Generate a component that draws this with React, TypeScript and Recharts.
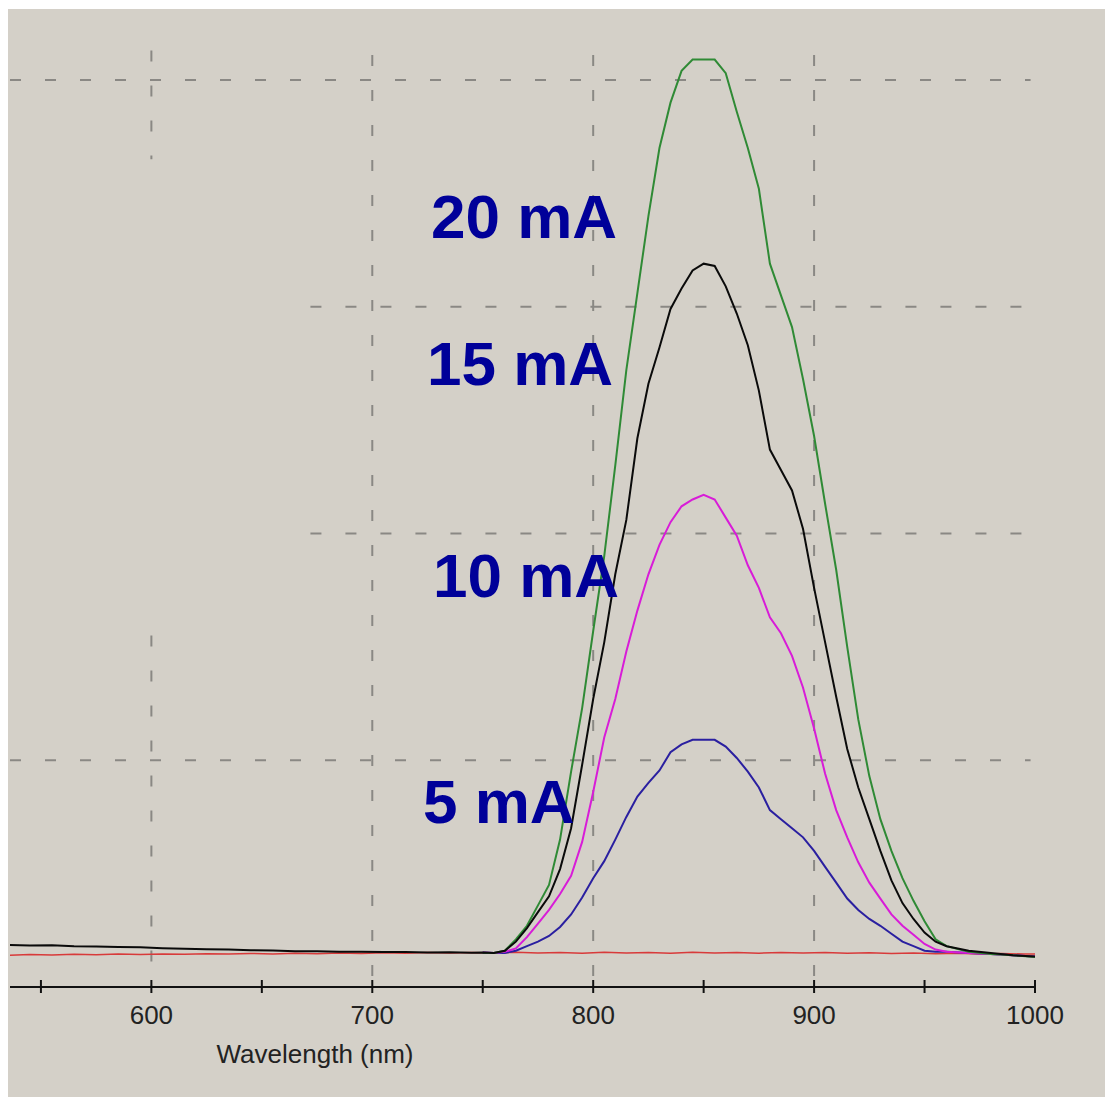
import { LineChart, Line, XAxis, YAxis, ReferenceLine } from 'recharts'

// wavelength grid (nm) for the emission peaks
const peakNm = [
  750, 755, 760, 765, 770, 775, 780, 785, 790, 795,
  800, 805, 810, 815, 820, 825, 830, 835, 840, 845,
  850, 855, 860, 865, 870, 875, 880, 885, 890, 895,
  900, 905, 910, 915, 920, 925, 930, 935, 940, 945,
  950, 955, 960, 970, 980, 990, 1000,
]

const green20 = [
  0.151, 0.15, 0.16, 0.21, 0.27, 0.36, 0.45, 0.65, 0.95, 1.23,
  1.57, 1.9, 2.3, 2.72, 3.06, 3.4, 3.7, 3.9, 4.04, 4.09,
  4.09, 4.09, 4.03, 3.86, 3.7, 3.52, 3.19, 3.05, 2.91, 2.68,
  2.43, 2.13, 1.84, 1.5, 1.18, 0.93, 0.74, 0.6, 0.48, 0.38,
  0.29, 0.21, 0.18, 0.155, 0.145, 0.14, 0.132,
]

const black15 = [
  0.152, 0.15, 0.16, 0.2, 0.26, 0.33, 0.4, 0.52, 0.7, 0.98,
  1.27, 1.52, 1.82, 2.06, 2.42, 2.66, 2.82, 2.99, 3.08, 3.16,
  3.19, 3.18, 3.09, 2.97, 2.83, 2.63, 2.37, 2.28, 2.19, 2.02,
  1.76, 1.52, 1.28, 1.05, 0.88, 0.74, 0.6, 0.47, 0.37, 0.3,
  0.24, 0.2, 0.18, 0.16, 0.15, 0.14, 0.135,
]

const magenta10 = [
  0.152, 0.15, 0.155, 0.17, 0.22, 0.28, 0.34, 0.41, 0.49, 0.64,
  0.86, 1.1, 1.27, 1.48, 1.66, 1.82, 1.95, 2.05, 2.12, 2.15,
  2.17, 2.15, 2.07, 1.99, 1.86, 1.76, 1.63, 1.56, 1.46, 1.32,
  1.14, 0.94, 0.78, 0.66, 0.55, 0.46, 0.39, 0.32, 0.27, 0.23,
  0.19, 0.165, 0.155, 0.15, 0.145, 0.14, 0.135,
]

const blue5 = [
  0.152, 0.15, 0.15, 0.16, 0.18, 0.2, 0.225, 0.265, 0.32, 0.395,
  0.48, 0.555, 0.65, 0.75, 0.84, 0.9, 0.955, 1.035, 1.07, 1.09,
  1.09, 1.09, 1.06, 1.01, 0.95, 0.88, 0.78, 0.74, 0.7, 0.66,
  0.6, 0.53, 0.46, 0.39, 0.34, 0.3, 0.27, 0.235, 0.2, 0.18,
  0.16, 0.155, 0.155, 0.15, 0.145, 0.14, 0.135,
]

// flat part before the peak (black trace sits on top)
const baseNm = [536, 545, 555, 565, 575, 585, 595, 605, 615, 625, 635, 645, 655, 665, 675, 685, 695, 705, 715, 725, 735, 745]
const blackBase = [
  0.185, 0.183, 0.184, 0.18, 0.179, 0.176, 0.175, 0.171, 0.169, 0.166, 0.165,
  0.162, 0.161, 0.158, 0.158, 0.156, 0.156, 0.154, 0.154, 0.152, 0.153, 0.151,
]

// dark current trace
const redNm = [
  536, 545, 555, 565, 575, 585, 595, 605, 615, 625, 635, 645, 655, 665, 675, 685,
  695, 705, 715, 725, 735, 745, 755, 765, 775, 785, 795, 805, 815, 825, 835, 845,
  855, 865, 875, 885, 895, 905, 915, 925, 935, 945, 955, 965, 975, 985, 995, 1000,
]
const red0 = [
  0.14, 0.143, 0.141, 0.144, 0.142, 0.145, 0.143, 0.146, 0.144, 0.147, 0.145, 0.148, 0.146, 0.149, 0.147, 0.15,
  0.148, 0.151, 0.149, 0.152, 0.15, 0.152, 0.15, 0.153, 0.15, 0.152, 0.149, 0.153, 0.15, 0.152, 0.149, 0.153,
  0.15, 0.152, 0.149, 0.152, 0.15, 0.152, 0.149, 0.151, 0.148, 0.15, 0.147, 0.149, 0.146, 0.148, 0.145, 0.146,
]

const xTicks = [550, 600, 650, 700, 750, 800, 850, 900, 950, 1000]
const majorTicks = [600, 700, 800, 900, 1000]

const toSeries = (xs: number[], ys: number[]) => xs.map((nm, i) => ({ nm, v: ys[i] }))

const gridColor = '#8a8884'
const gridDash = '11 24'

const AxisTick = (props: any) => {
  const { x, y, payload } = props
  const major = majorTicks.includes(payload.value)
  return (
    <g>
      <line x1={x} x2={x} y1={y - 7} y2={y + 6} stroke="#111" strokeWidth={2} />
      {major && (
        <text x={x} y={y + 37} textAnchor="middle" fontSize={26} fill="#222" fontFamily="'Liberation Sans', Arial, sans-serif">
          {payload.value}
        </text>
      )}
    </g>
  )
}

const AxisTitle = (props: any) => {
  const vb = props.viewBox
  return (
    <text x={vb.x + 305} y={vb.y + 76} textAnchor="middle" fontSize={26} fill="#222" fontFamily="'Liberation Sans', Arial, sans-serif">
      Wavelength (nm)
    </text>
  )
}

const labels = [
  { text: '20 mA', x: 423, y: 229 },
  { text: '15 mA', x: 419, y: 376 },
  { text: '10 mA', x: 425, y: 588 },
  { text: '5 mA', x: 415, y: 814 },
]

export default function App() {
  const W = 1097
  const H = 1088
  return (
    <div style={{ position: 'absolute', left: 8, top: 9, width: W, height: H, background: '#d4d0c8' }}>
      <LineChart width={W} height={H} margin={{ top: 0, right: 70, bottom: 0, left: 2 }}>
        <XAxis
          dataKey="nm"
          type="number"
          domain={[536, 1000]}
          ticks={xTicks}
          interval={0}
          allowDataOverflow
          height={110}
          tickLine={false}
          tickSize={0}
          tickMargin={0}
          axisLine={{ stroke: '#111', strokeWidth: 2 }}
          tick={<AxisTick />}
          label={<AxisTitle />}
        />
        <YAxis hide type="number" domain={[0, 4.313]} allowDataOverflow />

        {/* dashed grid, drawn as segments like in the original screen */}
        <ReferenceLine segment={[{ x: 536, y: 4 }, { x: 998, y: 4 }]} stroke={gridColor} strokeWidth={2} strokeDasharray={gridDash} />
        <ReferenceLine segment={[{ x: 672, y: 3 }, { x: 998, y: 3 }]} stroke={gridColor} strokeWidth={2} strokeDasharray={gridDash} />
        <ReferenceLine segment={[{ x: 672, y: 2 }, { x: 998, y: 2 }]} stroke={gridColor} strokeWidth={2} strokeDasharray={gridDash} />
        <ReferenceLine segment={[{ x: 536, y: 1 }, { x: 998, y: 1 }]} stroke={gridColor} strokeWidth={2} strokeDasharray={gridDash} />
        <ReferenceLine segment={[{ x: 600, y: 4.13 }, { x: 600, y: 3.65 }]} stroke={gridColor} strokeWidth={2} strokeDasharray={gridDash} />
        <ReferenceLine segment={[{ x: 600, y: 1.55 }, { x: 600, y: 0 }]} stroke={gridColor} strokeWidth={2} strokeDasharray={gridDash} />
        <ReferenceLine segment={[{ x: 700, y: 4.11 }, { x: 700, y: 0 }]} stroke={gridColor} strokeWidth={2} strokeDasharray={gridDash} />
        <ReferenceLine segment={[{ x: 800, y: 4.11 }, { x: 800, y: 0 }]} stroke={gridColor} strokeWidth={2} strokeDasharray={gridDash} />
        <ReferenceLine segment={[{ x: 900, y: 4.11 }, { x: 900, y: 0 }]} stroke={gridColor} strokeWidth={2} strokeDasharray={gridDash} />

        <Line data={toSeries(redNm, red0)} dataKey="v" stroke="#d83a3a" strokeWidth={1.5} dot={false} isAnimationActive={false} />
        <Line data={toSeries(peakNm, blue5)} dataKey="v" stroke="#2a1fa0" strokeWidth={2} dot={false} isAnimationActive={false} />
        <Line data={toSeries(peakNm, magenta10)} dataKey="v" stroke="#d81cd8" strokeWidth={2} dot={false} isAnimationActive={false} />
        <Line data={toSeries(peakNm, green20)} dataKey="v" stroke="#2f8a35" strokeWidth={2} dot={false} isAnimationActive={false} />
        <Line
          data={toSeries([...baseNm, ...peakNm], [...blackBase, ...black15])}
          dataKey="v"
          stroke="#0a0a0a"
          strokeWidth={2}
          dot={false}
          isAnimationActive={false}
        />
      </LineChart>

      <svg width={W} height={H} style={{ position: 'absolute', left: 0, top: 0, pointerEvents: 'none' }}>
        {labels.map((l) => (
          <text key={l.text} x={l.x} y={l.y} fontSize={62} fontWeight="bold" fill="#000099" fontFamily="'Liberation Sans', Arial, sans-serif">
            {l.text}
          </text>
        ))}
      </svg>
    </div>
  )
}
